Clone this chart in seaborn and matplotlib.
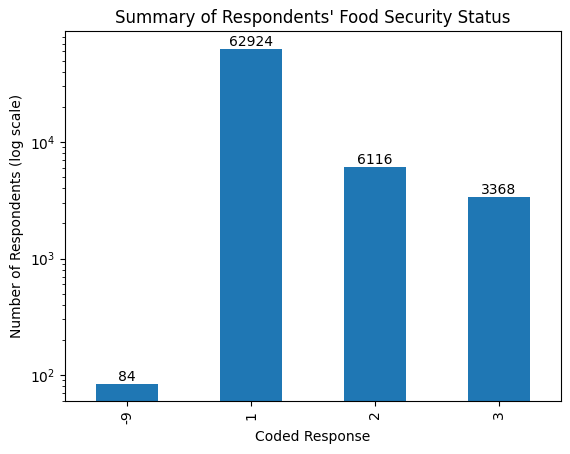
import matplotlib
matplotlib.use('Agg')
import matplotlib.pyplot as plt
import seaborn as sns
import pandas as pd

# Food security status counts
codes = ['-9', '1', '2', '3']
counts = [84, 62924, 6116, 3368]

df = pd.DataFrame({'code': codes, 'count': counts})

fig = plt.figure(figsize=(5.7, 4.54), dpi=100)
ax = fig.add_axes([65/570, 1 - 401/454, (561 - 65)/570, (401 - 31)/454])

sns.barplot(data=df, x='code', y='count', color='#1f77b4', saturation=1,
            width=0.5, ax=ax)
ax.set_yscale('log')
ax.set_xlim(-0.5, 3.5)
ax.set_ylim(59.8, 89800)

for c in ax.containers:
    ax.bar_label(c, fmt='%d')

ax.set_title("Summary of Respondents' Food Security Status")
ax.set_xlabel('Coded Response')
ax.set_ylabel('Number of Respondents (log scale)')
ax.tick_params(axis='x', labelrotation=90)

plt.savefig('out.png', dpi=100)
